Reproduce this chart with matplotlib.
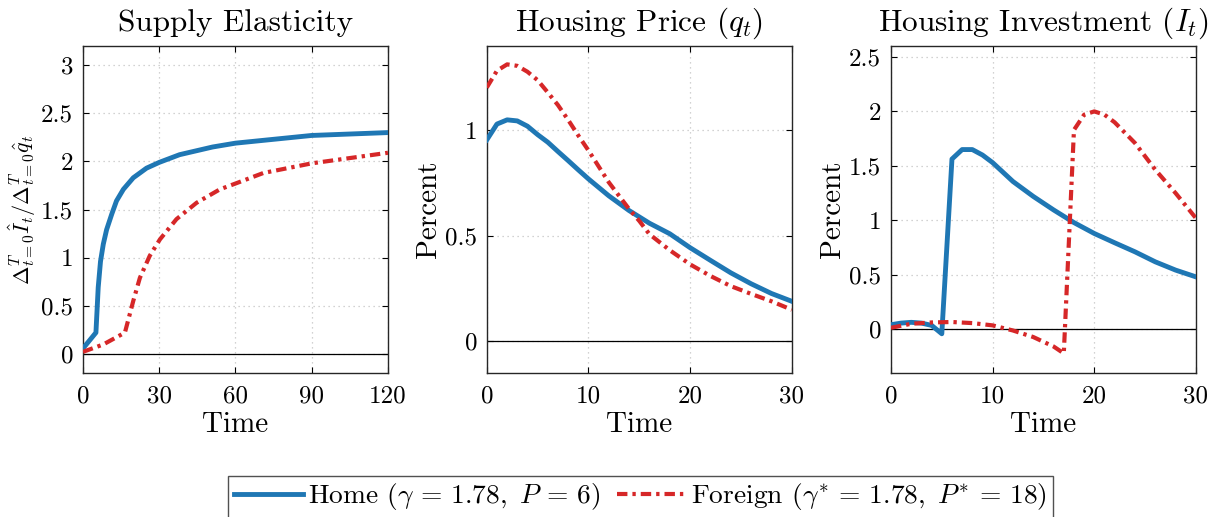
import matplotlib
matplotlib.use('Agg')
import matplotlib.pyplot as plt
import numpy as np

plt.rcParams['font.family'] = 'cmr10'
plt.rcParams['mathtext.fontset'] = 'cm'
plt.rcParams['axes.formatter.use_mathtext'] = True
plt.rcParams['axes.unicode_minus'] = False

# supply elasticity (cumulative investment / cumulative price)
t_el_home = [0, 5.1, 6, 6.9, 8, 9.3, 11.3, 13.2, 15.9, 19.8, 25, 30, 38, 51, 60, 90, 120]
el_home = [0.055, 0.22, 0.69, 0.96, 1.14, 1.29, 1.45, 1.59, 1.71, 1.83, 1.93, 1.99,
           2.07, 2.15, 2.19, 2.27, 2.30]
t_el_for = [0, 8, 16.5, 19.8, 22.4, 26.3, 30.3, 36.8, 44.7, 53.9, 60, 71, 90, 120]
el_for = [0.02, 0.097, 0.22, 0.55, 0.79, 1.02, 1.19, 1.40, 1.57, 1.71, 1.77, 1.88,
          1.98, 2.09]

# housing price
t_q = [0, 1, 2, 3, 4, 5, 6, 7, 8, 9, 10, 12, 14, 15, 16, 18, 20, 22, 24, 26, 28, 30]
q_home = [0.955, 1.03, 1.05, 1.045, 1.02, 0.98, 0.944, 0.90, 0.857, 0.813, 0.77,
          0.69, 0.62, 0.59, 0.56, 0.51, 0.444, 0.384, 0.325, 0.273, 0.227, 0.19]
q_for = [1.203, 1.283, 1.313, 1.306, 1.278, 1.238, 1.18, 1.12, 1.05, 0.976, 0.905,
         0.754, 0.627, 0.571, 0.508, 0.432, 0.365, 0.31, 0.262, 0.225, 0.19, 0.15]

# housing investment
t_i_home = [0, 1, 2, 3, 4, 5, 6, 7, 8, 9, 10, 12, 14, 16, 18, 20, 22, 24, 26, 28, 30]
i_home = [0.043, 0.058, 0.065, 0.058, 0.037, -0.04, 1.563, 1.65, 1.65, 1.60, 1.53,
          1.357, 1.22, 1.096, 0.98, 0.88, 0.795, 0.712, 0.62, 0.544, 0.482]
t_i_for = [0, 2, 4, 6, 8, 10, 12, 14, 16, 17, 18, 19, 20, 21, 22, 24, 26, 28, 30]
i_for = [0.015, 0.052, 0.064, 0.068, 0.058, 0.037, -0.01, -0.07, -0.157, -0.22,
         1.83, 1.97, 2.0, 1.97, 1.9, 1.71, 1.465, 1.25, 1.02]

blue = '#1f77b4'
red = '#d62728'
dashdot = (0, (2.5, 1.2, 0.8, 1.2))

fig = plt.figure(figsize=(12.2, 5.17), dpi=100)
axes = [fig.add_axes([l, 0.2785, 0.25, 0.6325]) for l in (0.068, 0.399, 0.7303)]

panels = [
    ('Supply Elasticity', (t_el_home, el_home), (t_el_for, el_for),
     (0, 120), [0, 30, 60, 90, 120], (-0.2, 3.2), [0, 0.5, 1, 1.5, 2, 2.5, 3]),
    ('Housing Price ($q_t$)', (t_q, q_home), (t_q, q_for),
     (0, 30), [0, 10, 20, 30], (-0.15, 1.4), [0, 0.5, 1]),
    ('Housing Investment ($I_t$)', (t_i_home, i_home), (t_i_for, i_for),
     (0, 30), [0, 10, 20, 30], (-0.4, 2.6), [0, 0.5, 1, 1.5, 2, 2.5]),
]

lines = []
for ax, (title, home, foreign, xl, xt, yl, yt) in zip(axes, panels):
    ax.axhline(0, color='black', lw=0.9, zorder=2)
    h, = ax.plot(*home, color=blue, lw=3.5, zorder=3)
    f, = ax.plot(*foreign, color=red, lw=3.0, ls=dashdot, zorder=4)
    lines = [h, f]
    ax.set_xlim(*xl)
    ax.set_ylim(*yl)
    ax.set_xticks(xt)
    ax.set_yticks(yt)
    ax.set_yticklabels([('%g' % v) for v in yt])
    ax.set_xticklabels([('%g' % v) for v in xt])
    ax.grid(True, color='#c4c4c4', lw=0.9, dashes=(1, 3))
    ax.tick_params(direction='in', top=True, right=True, labelsize=18, length=4)
    ax.tick_params(axis='x', pad=9)
    ax.tick_params(axis='y', pad=7)
    for s in ax.spines.values():
        s.set_linewidth(1.0)
        s.set_color('#262626')
    ax.set_title(title, fontsize=22.5, pad=11)
    ax.set_xlabel('Time', fontsize=21, labelpad=3)

axes[0].set_ylabel(r'$\Delta_{t=0}^T\hat{I}_t/\Delta_{t=0}^T\hat{q}_t$', fontsize=16, labelpad=2)
axes[1].set_ylabel('Percent', fontsize=21, labelpad=2)
axes[2].set_ylabel('Percent', fontsize=21, labelpad=2)

leg = fig.legend(lines, [r'Home ($\gamma\,=\,1.78,\ P\,=\,6$)',
                         r'Foreign ($\gamma^{*}\,=\,1.78,\ P^{*}\,=\,18$)'],
                 loc='center', bbox_to_anchor=(0.525, 0.039), ncol=2, fontsize=19.8,
                 frameon=True, fancybox=False, edgecolor='#262626', handlelength=2.5,
                 columnspacing=0.6, handletextpad=0.2, borderpad=0.2)
leg.get_frame().set_linewidth(1.0)

fig.savefig('out.png', dpi=100)
